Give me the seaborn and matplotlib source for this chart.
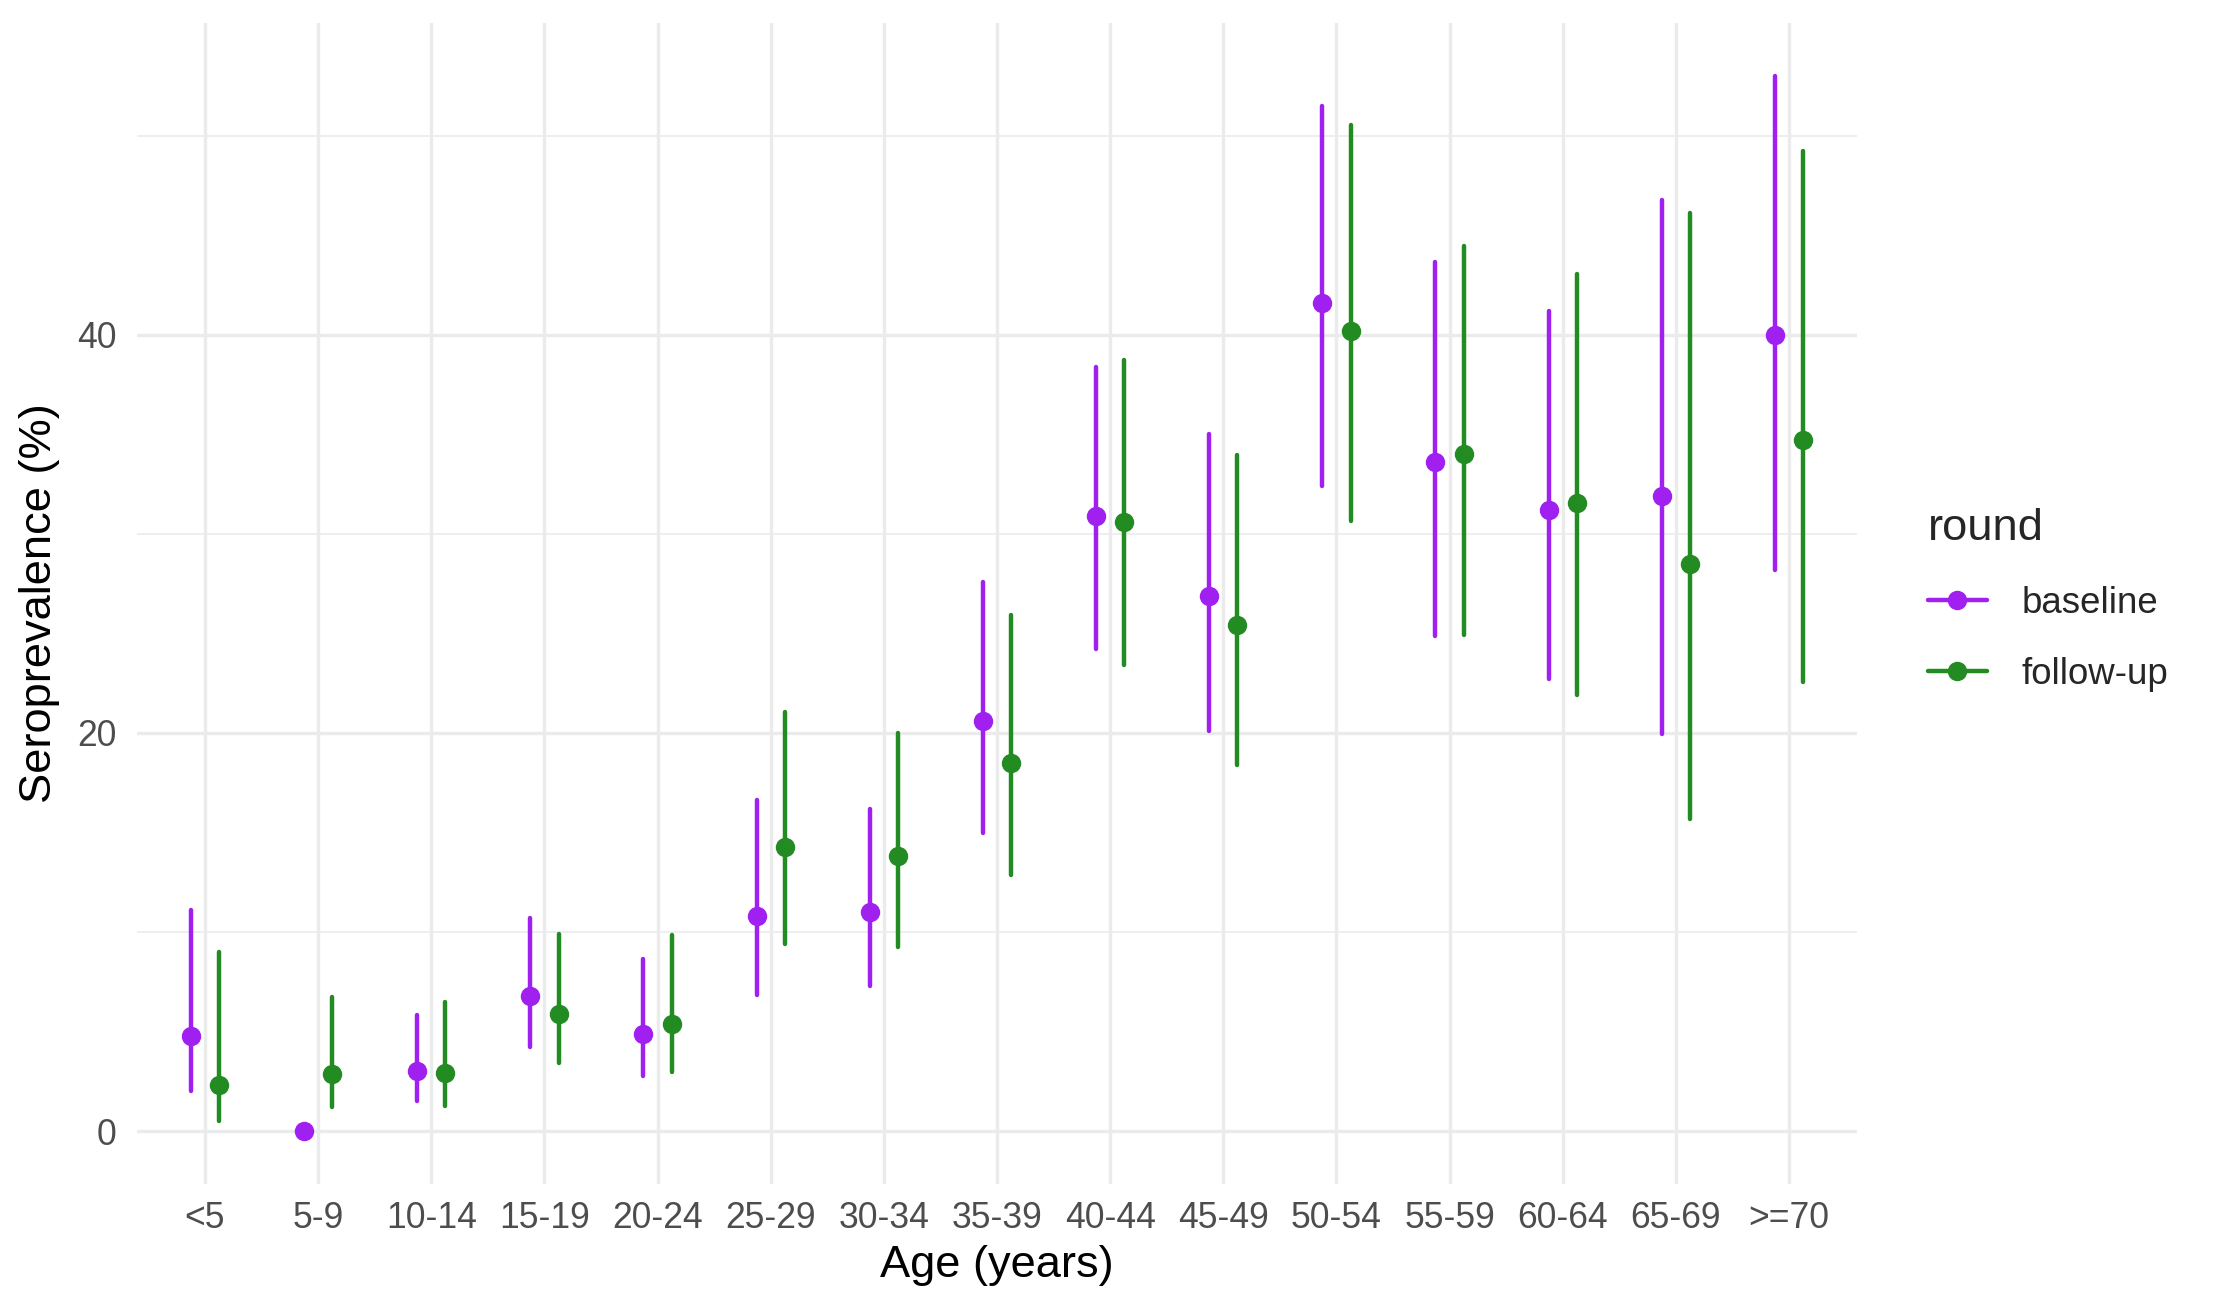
import numpy as np
import pandas as pd
import matplotlib
matplotlib.use("Agg")
import matplotlib.pyplot as plt
from matplotlib.lines import Line2D
import seaborn as sns

ages = ["<5", "5-9", "10-14", "15-19", "20-24", "25-29", "30-34", "35-39",
        "40-44", "45-49", "50-54", "55-59", "60-64", "65-69", ">=70"]
rounds = ["baseline", "follow-up"]

base_est = [4.8, 0.0, 3.0, 6.8, 4.9, 10.8, 11.0, 20.6, 30.9, 26.9, 41.6, 33.6, 31.2, 31.9, 40.0]
base_low = [2.0, 0.0, 1.5, 4.25, 2.75, 6.85, 7.3, 15.0, 24.2, 20.1, 32.4, 24.85, 22.7, 19.95, 28.2]
base_high = [11.1, 0.0, 5.85, 10.7, 8.65, 16.65, 16.2, 27.6, 38.4, 35.0, 51.5, 43.65, 41.2, 46.75, 53.0]

fu_est = [2.3, 2.85, 2.9, 5.9, 5.4, 14.25, 13.8, 18.5, 30.6, 25.4, 40.2, 34.0, 31.55, 28.5, 34.7]
fu_low = [0.5, 1.2, 1.25, 3.45, 2.95, 9.4, 9.25, 12.85, 23.4, 18.4, 30.65, 24.9, 21.9, 15.7, 22.55]
fu_high = [9.0, 6.75, 6.5, 9.9, 9.85, 21.05, 20.0, 25.9, 38.75, 33.95, 50.55, 44.45, 43.05, 46.1, 49.2]

colors = ["#A020F0", "#228B22"]

rows = []
for r, (est, lo, hi) in zip(rounds, [(base_est, base_low, base_high), (fu_est, fu_low, fu_high)]):
    for a, e, l, h in zip(ages, est, lo, hi):
        for v in (l, e, h):
            rows.append({"age": a, "round": r, "value": v})
df = pd.DataFrame(rows)

sns.set_theme(style="white")
plt.rcParams["font.family"] = ["Liberation Sans", "DejaVu Sans"]

fig = plt.figure(figsize=(2213 / 200, 1313 / 200), dpi=200)
ax = fig.add_axes([137 / 2213, 1 - 1184 / 1313, (1857 - 137) / 2213, (1184 - 23) / 1313])

sns.pointplot(data=df, x="age", y="value", hue="round", order=ages, hue_order=rounds,
              estimator="median", errorbar=("pi", 100), dodge=0.25, linestyle="none",
              palette=colors, markers="o", markersize=7, markeredgewidth=0,
              err_kws={"linewidth": 1.6}, legend=False, ax=ax)

ax.set_xlim(-0.6, 14.6)
ax.set_ylim(-2.65, 55.65)
ax.set_yticks([0, 20, 40])
ax.set_yticks([10, 30, 50], minor=True)
ax.grid(True, which="major", color="#EBEBEB", linewidth=1.2)
ax.grid(True, which="minor", axis="y", color="#EBEBEB", linewidth=0.6)
ax.set_axisbelow(True)
for s in ax.spines.values():
    s.set_visible(False)
ax.tick_params(axis="both", which="both", length=0, labelsize=12.8, labelcolor="#4D4D4D")
ax.tick_params(axis="x", pad=6)
ax.tick_params(axis="y", pad=7.5)

ax.set_xlabel("Age (years)", fontsize=16.3, color="black")
ax.set_ylabel("Seroprevalence (%)", fontsize=16.3, color="black")
ax.xaxis.set_label_coords(0.5, -0.0706)
ax.yaxis.set_label_coords(-0.0564, 0.5)
ax.xaxis.label.set_va("center")
ax.yaxis.label.set_va("center")

handles = [Line2D([0], [0], color=c, marker="o", lw=1.6, markersize=7, markeredgewidth=0)
           for c in colors]
leg = ax.legend(handles, rounds, title="round", loc="center left", bbox_to_anchor=(1.022, 0.503),
                frameon=False, fontsize=13.2, title_fontsize=16.3, handlelength=1.6,
                handletextpad=0.95, labelspacing=1.0, alignment="left")
leg._legend_box.get_children()[1].set_offset  # keep default packing
for h in leg.legend_handles:
    pass

fig.savefig("out.png", dpi=200, facecolor="white")
